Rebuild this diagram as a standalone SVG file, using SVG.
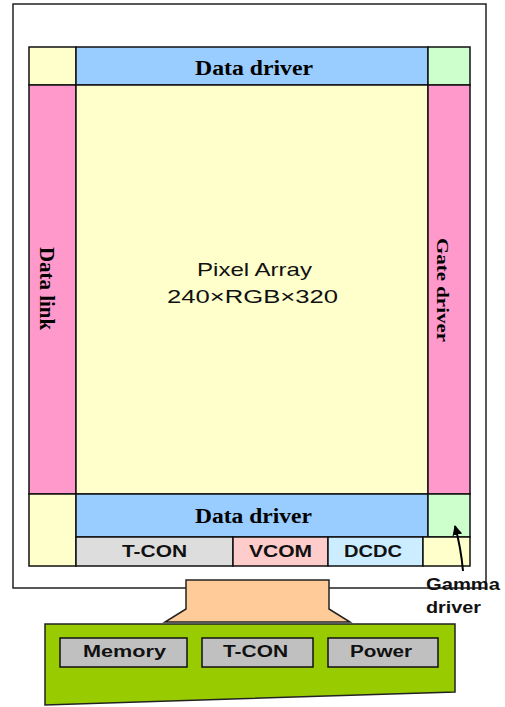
<svg xmlns="http://www.w3.org/2000/svg" width="505" height="707" viewBox="0 0 505 707">
<style>
.c{stroke:#111;stroke-width:1.5}
.ser{font-family:"Liberation Serif","Times New Roman",serif;font-weight:bold;fill:#000}
.san{font-family:"Liberation Sans",Arial,sans-serif;font-weight:bold;fill:#111}
.pix{font-family:"Liberation Sans",Arial,sans-serif;fill:#111}
</style>
<defs>
<marker id="ah" markerWidth="10" markerHeight="10" refX="9" refY="5" orient="auto" markerUnits="userSpaceOnUse">
<path d="M0,0 L10,5 L0,10 Z" fill="#000"/>
</marker>
</defs>
<rect width="505" height="707" fill="#fff"/>
<g id="frame">
<rect x="13" y="4" width="473" height="584" fill="#fff" stroke="#222" stroke-width="1.5"/>
</g>
<g id="corner-tl"><rect class="c" x="29" y="47" width="47" height="38" fill="#FFFFCC"/></g>
<g id="data-driver-top"><rect class="c" x="76" y="47" width="352" height="38" fill="#99CCFF"/>
<text class="ser" x="254" y="75" font-size="20" text-anchor="middle" textLength="118" lengthAdjust="spacingAndGlyphs">Data driver</text></g>
<g id="corner-tr"><rect class="c" x="428" y="47" width="42" height="38" fill="#CCFFCC"/></g>
<g id="data-link"><rect class="c" x="29" y="85" width="47" height="409" fill="#FF99CC"/>
<text class="ser" transform="translate(40,288.5) rotate(90)" font-size="20" text-anchor="middle" textLength="83" lengthAdjust="spacingAndGlyphs">Data link</text></g>
<g id="pixel-array"><rect class="c" x="76" y="85" width="352" height="409" fill="#FFFFCC"/>
<text class="pix" x="254.5" y="276" font-size="19" text-anchor="middle" textLength="115" lengthAdjust="spacingAndGlyphs">Pixel Array</text>
<text class="pix" x="252.5" y="303" font-size="19" text-anchor="middle" textLength="171" lengthAdjust="spacingAndGlyphs">240×RGB×320</text></g>
<g id="gate-driver"><rect class="c" x="428" y="85" width="42" height="409" fill="#FF99CC"/>
<text class="ser" transform="translate(437,290) rotate(90)" font-size="17" text-anchor="middle" textLength="104" lengthAdjust="spacingAndGlyphs">Gate driver</text></g>
<g id="corner-bl"><rect class="c" x="29" y="494" width="47" height="72" fill="#FFFFCC"/></g>
<g id="data-driver-bottom"><rect class="c" x="76" y="494" width="352" height="43" fill="#99CCFF"/>
<text class="ser" x="253.5" y="523" font-size="20" text-anchor="middle" textLength="117" lengthAdjust="spacingAndGlyphs">Data driver</text></g>
<g id="gamma-cell"><rect class="c" x="428" y="494" width="42" height="43" fill="#CCFFCC"/></g>
<g id="tcon-panel"><rect class="c" x="76" y="537" width="157" height="29" fill="#DDDDDD"/>
<text class="san" x="154.5" y="557" font-size="16" text-anchor="middle" textLength="65" lengthAdjust="spacingAndGlyphs">T-CON</text></g>
<g id="vcom"><rect class="c" x="233" y="537" width="95" height="29" fill="#FFCCCC"/>
<text class="san" x="280.5" y="557" font-size="16" text-anchor="middle" textLength="63" lengthAdjust="spacingAndGlyphs">VCOM</text></g>
<g id="dcdc"><rect class="c" x="328" y="537" width="95" height="29" fill="#CCECFF"/>
<text class="san" x="373" y="557" font-size="16" text-anchor="middle" textLength="58" lengthAdjust="spacingAndGlyphs">DCDC</text></g>
<g id="corner-br"><rect class="c" x="423" y="537" width="47" height="29" fill="#FFFFCC"/></g>
<g id="fpc"><path d="M186,580 L329,580 L329,609 L350,622 L165,622 L186,609 Z" fill="#FFCC99" stroke="#222" stroke-width="1.5"/></g>
<g id="board"><path d="M45,624 L455,624 L455,692 L45,705 Z" fill="#99CC00" stroke="#222" stroke-width="1.5"/></g>
<g id="memory"><rect class="c" x="60" y="638" width="127" height="29" fill="#C0C0C0"/>
<text class="san" x="124.5" y="657" font-size="16" text-anchor="middle" textLength="83" lengthAdjust="spacingAndGlyphs">Memory</text></g>
<g id="tcon-board"><rect class="c" x="202" y="638" width="111" height="29" fill="#C0C0C0"/>
<text class="san" x="255.5" y="657" font-size="16" text-anchor="middle" textLength="65" lengthAdjust="spacingAndGlyphs">T-CON</text></g>
<g id="power"><rect class="c" x="328" y="638" width="110" height="29" fill="#C0C0C0"/>
<text class="san" x="381" y="657" font-size="16" text-anchor="middle" textLength="62" lengthAdjust="spacingAndGlyphs">Power</text></g>
<g id="connectors">
<path d="M463,571 Q461,548 455,526" fill="none" stroke="#000" stroke-width="2" marker-end="url(#ah)"/>
</g>
<g id="gamma-label">
<text class="san" x="426" y="590" font-size="17" textLength="74" lengthAdjust="spacingAndGlyphs">Gamma</text>
<text class="san" x="426" y="613" font-size="17" textLength="55" lengthAdjust="spacingAndGlyphs">driver</text>
</g>
</svg>
